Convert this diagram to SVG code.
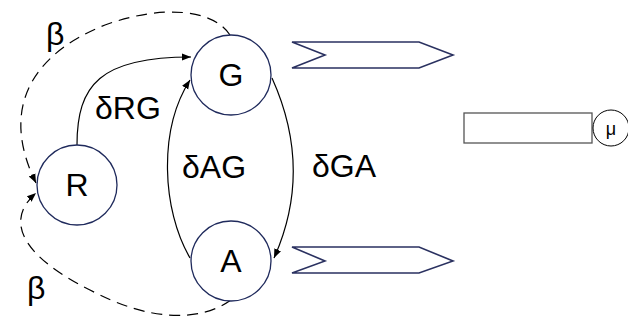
<svg xmlns="http://www.w3.org/2000/svg" width="628" height="320" viewBox="0 0 628 320">
<defs>
<style>
.node{fill:#fff;stroke:#1f2a5c;stroke-width:1.3}
.lbl{font-family:"Liberation Sans",Arial,sans-serif;font-size:32px;fill:#000}
.edge{fill:none;stroke:#000;stroke-width:1.2}
.dash{fill:none;stroke:#000;stroke-width:1.2;stroke-dasharray:11 7}
.chev{fill:#fff;stroke:#2a3160;stroke-width:1.6}
</style>
<marker id="ah" viewBox="0 0 10 10" refX="10" refY="5" markerWidth="9" markerHeight="9" markerUnits="userSpaceOnUse" orient="auto">
<path d="M0,1 L10,5 L0,9 z" fill="#000"/>
</marker>
</defs>
<g id="connectors">
<path class="edge" d="M77,145 C77,85 100,57 191,57" marker-end="url(#ah)"/>
<path class="edge" d="M190,258 C162,210 158,130 190,80" marker-end="url(#ah)"/>
<path class="edge" d="M272,78 C300,140 300,200 274,258" marker-end="url(#ah)"/>
<path class="dash" d="M230,35 C212,8 160,5 105,25 C30,55 0,110 36,183" marker-end="url(#ah)"/>
<path class="dash" d="M231,300 C200,322 150,322 90,290 C20,255 5,220 36,193" marker-end="url(#ah)"/>
</g>
<g id="label-beta-top"><text class="lbl" x="46" y="45" font-size="30">β</text></g>
<g id="label-beta-bottom"><text class="lbl" x="27" y="299" font-size="30">β</text></g>
<g id="label-dRG"><text class="lbl" x="95" y="119">δRG</text></g>
<g id="label-dAG"><text class="lbl" x="182" y="178">δAG</text></g>
<g id="label-dGA"><text class="lbl" x="312" y="177">δGA</text></g>
<g id="node-G"><circle class="node" cx="231" cy="75" r="40"/><text class="lbl" x="231" y="86" text-anchor="middle">G</text></g>
<g id="node-R"><circle class="node" cx="77" cy="185" r="40"/><text class="lbl" x="77" y="196" text-anchor="middle">R</text></g>
<g id="node-A"><circle class="node" cx="231" cy="261" r="40"/><text class="lbl" x="231" y="272" text-anchor="middle">A</text></g>
<g id="chevron-top"><polygon class="chev" points="292,42 419,42 453,55 419,68 292,68 325,55"/></g>
<g id="chevron-bottom"><polygon class="chev" points="292,247 419,247 453,261 419,273 292,273 325,261"/></g>
<g id="box"><rect x="464" y="113" width="128" height="30" fill="#fff" stroke="#555" stroke-width="1.3"/></g>
<g id="node-mu"><circle cx="611" cy="128" r="18" fill="#fff" stroke="#000" stroke-width="1"/><text x="611" y="135" text-anchor="middle" font-family="Liberation Sans,Arial,sans-serif" font-size="18" fill="#000">μ</text></g>
</svg>
